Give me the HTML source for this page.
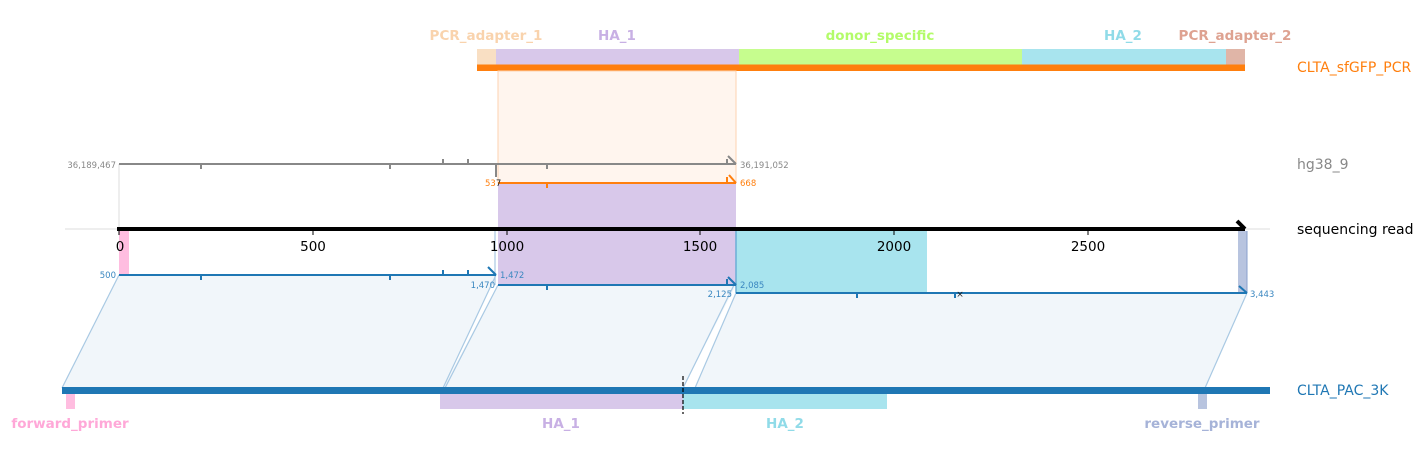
<!DOCTYPE html>
<html><head><meta charset="utf-8"><style>
html,body{margin:0;padding:0;background:#fff;width:1423px;height:459px;overflow:hidden}
text{font-family:"DejaVu Sans","Liberation Sans",sans-serif}
</style></head><body>
<svg width="1423" height="459" viewBox="0 0 1423 459" xmlns="http://www.w3.org/2000/svg">
<!-- parallelograms -->
<polygon points="119,275 496,275 443,388 62,388" fill="#f1f6fa"/>
<polygon points="498,285 736,285 683,388 443,388" fill="#f1f6fa"/>
<polygon points="736,293 1247,293 1205,388 695,388" fill="#f1f6fa"/>
<g stroke="#a9c9e3" stroke-width="1.2" fill="none">
<line x1="119" y1="275" x2="62" y2="388"/>
<line x1="496" y1="275" x2="443" y2="388"/>
<line x1="498" y1="285" x2="445" y2="388"/>
<line x1="734" y1="285" x2="683" y2="388"/>
<line x1="736" y1="293" x2="695" y2="388"/>
<line x1="1247" y1="293" x2="1205" y2="388"/>
</g>
<!-- top amplicon -->
<rect x="477" y="49" width="19" height="16" fill="#f9dfc3"/>
<rect x="496" y="49" width="243" height="16" fill="#d8c8ea"/>
<rect x="739" y="49" width="283" height="16" fill="#c6fd8e"/>
<rect x="1022" y="49" width="204" height="16" fill="#a8e4ee"/>
<rect x="1226" y="49" width="19" height="16" fill="#e0b5a7"/>
<rect x="477" y="64.5" width="768" height="6.5" fill="#ff7f0e"/>
<g font-weight="bold" font-size="13.5" text-anchor="middle">
<text x="486" y="40" fill="#f9d3ad">PCR_adapter_1</text>
<text x="617" y="40" fill="#c8b0e4">HA_1</text>
<text x="880" y="40" fill="#b3fb6a">donor_specific</text>
<text x="1123" y="40" fill="#90dbe8">HA_2</text>
<text x="1235" y="40" fill="#dea291">PCR_adapter_2</text>
</g>
<text x="1297" y="72" font-size="14" fill="#ff7f0e">CLTA_sfGFP_PCR</text>
<!-- highlight -->
<rect x="498" y="71" width="238" height="112" fill="#fff5ee" stroke="#fcd2b0" stroke-width="1"/>
<rect x="498" y="183" width="238" height="102" fill="#d8c8ea"/>
<rect x="119" y="231" width="10" height="44" fill="#ffbde0"/>
<rect x="736" y="231" width="191" height="62" fill="#a8e4ee"/>
<rect x="1238" y="231" width="9" height="62" fill="#b8c4df"/>
<line x1="736" y1="231" x2="736" y2="293" stroke="#6aaed6" stroke-width="1.5"/>
<line x1="1247" y1="231" x2="1247" y2="293" stroke="#8aa0cc" stroke-width="1"/>
<line x1="495" y1="231" x2="495" y2="285" stroke="#a9c9e3" stroke-width="1.2"/>
<line x1="119" y1="164" x2="119" y2="229" stroke="#ddd" stroke-width="1"/>
<!-- hg38 -->
<line x1="119" y1="164" x2="736" y2="164" stroke="#888" stroke-width="2"/>
<g stroke="#888" stroke-width="2">
<line x1="201" y1="164" x2="201" y2="169"/><line x1="390" y1="164" x2="390" y2="169"/>
<line x1="443" y1="159" x2="443" y2="164"/><line x1="468" y1="159" x2="468" y2="164"/>
<line x1="496" y1="164" x2="496" y2="177"/><line x1="547" y1="164" x2="547" y2="169"/>
<line x1="727" y1="159" x2="727" y2="164"/><line x1="728" y1="156" x2="736" y2="164"/>
</g>
<text x="116" y="168" font-size="8.5" fill="#888" text-anchor="end">36,189,467</text>
<text x="740" y="168" font-size="8.5" fill="#888">36,191,052</text>
<text x="1297" y="169" font-size="14" fill="#888">hg38_9</text>
<!-- orange -->
<line x1="498" y1="183" x2="736" y2="183" stroke="#ff7f0e" stroke-width="2"/>
<g stroke="#ff7f0e" stroke-width="2">
<line x1="547" y1="183" x2="547" y2="188"/><line x1="727" y1="177" x2="727" y2="183"/>
<line x1="729" y1="175" x2="736" y2="183"/></g>
<text x="485" y="186" font-size="8.5" fill="#ff7f0e">53<tspan fill="#222">7</tspan></text>
<text x="740" y="186" font-size="8.5" fill="#ff7f0e">668</text>
<!-- axis -->
<line x1="65" y1="229" x2="1270" y2="229" stroke="#ddd" stroke-width="1"/>
<line x1="117" y1="229" x2="1245" y2="229" stroke="#000" stroke-width="4"/>
<polyline points="1237,221 1245,229" stroke="#000" stroke-width="4" fill="none"/>
<g stroke="#000" stroke-width="1">
<line x1="119" y1="229" x2="119" y2="235"/><line x1="313" y1="229" x2="313" y2="235"/>
<line x1="507" y1="229" x2="507" y2="235"/><line x1="700" y1="229" x2="700" y2="235"/>
<line x1="894" y1="229" x2="894" y2="235"/><line x1="1088" y1="229" x2="1088" y2="235"/></g>
<g font-size="13.5" fill="#000" text-anchor="middle">
<text x="120" y="251">0</text><text x="313" y="251">500</text><text x="507" y="251">1000</text>
<text x="700" y="251">1500</text><text x="894" y="251">2000</text><text x="1088" y="251">2500</text></g>
<text x="1297" y="234" font-size="14" fill="#000">sequencing read</text>
<!-- blue reads -->
<g stroke="#1f77b4" stroke-width="2" fill="none">
<line x1="119" y1="275" x2="496" y2="275"/>
<line x1="201" y1="275" x2="201" y2="280"/><line x1="390" y1="275" x2="390" y2="280"/>
<line x1="443" y1="270" x2="443" y2="275"/><line x1="468" y1="270" x2="468" y2="275"/>
<line x1="488" y1="267" x2="496" y2="275"/>
<line x1="498" y1="285" x2="736" y2="285"/>
<line x1="547" y1="285" x2="547" y2="290"/><line x1="727" y1="279" x2="727" y2="285"/>
<line x1="728" y1="277" x2="736" y2="285"/>
<line x1="736" y1="293" x2="1247" y2="293"/>
<line x1="857" y1="293" x2="857" y2="298"/><line x1="955" y1="293" x2="955" y2="298"/>
<line x1="1239" y1="286" x2="1247" y2="293"/>
</g>
<text x="960" y="297" font-size="9" fill="#222" text-anchor="middle">×</text>
<g font-size="8.5" fill="#3a87c0">
<text x="116" y="278" text-anchor="end">500</text>
<text x="500" y="278">1,472</text>
<text x="495" y="288" text-anchor="end">1,470</text>
<text x="740" y="288">2,085</text>
<text x="732" y="297" text-anchor="end">2,125</text>
<text x="1250" y="297">3,443</text></g>
<!-- bottom -->
<rect x="62" y="387" width="1208" height="7" fill="#1f77b4"/>
<rect x="66" y="394" width="9" height="15" fill="#ffbde0"/>
<rect x="440" y="394" width="243" height="15" fill="#d8c8ea"/>
<rect x="683" y="394" width="204" height="15" fill="#a8e4ee"/>
<rect x="1198" y="394" width="9" height="15" fill="#b8c4df"/>
<line x1="683" y1="376" x2="683" y2="414" stroke="#000" stroke-width="1.2" stroke-dasharray="4,2"/>
<text x="1297" y="395" font-size="14" fill="#1f77b4">CLTA_PAC_3K</text>
<g font-weight="bold" font-size="13.5" text-anchor="middle">
<text x="70" y="428" fill="#ffa8d8">forward_primer</text>
<text x="561" y="428" fill="#c8b0e4">HA_1</text>
<text x="785" y="428" fill="#90dbe8">HA_2</text>
<text x="1202" y="428" fill="#a6b3d8">reverse_primer</text>
</g>
</svg>
</body></html>
